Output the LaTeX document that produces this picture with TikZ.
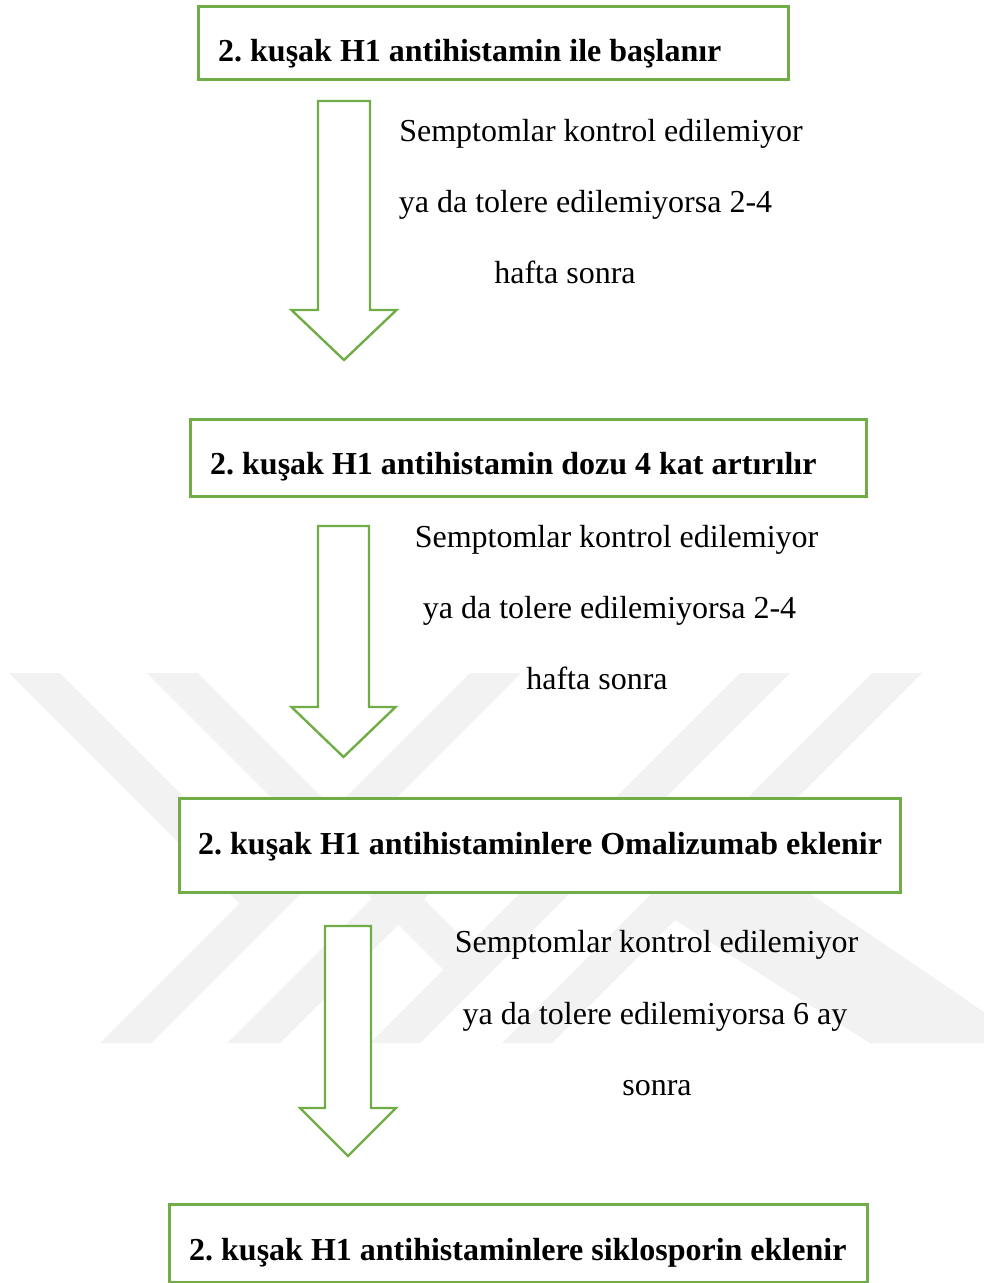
\documentclass[tikz,border=0pt]{standalone}
\usepackage{fontspec}
\setmainfont{Liberation Serif}
\frenchspacing
\usetikzlibrary{positioning}
\definecolor{boxGreen}{RGB}{112,173,71}
\definecolor{markGray}{RGB}{242,242,242}
\tikzstyle{flowChart} = [x = 1pt, y = -1pt]
\tikzstyle{stepBox} = [draw = boxGreen, line width = 2.6pt, fill = white, rectangle, inner sep = 0pt, anchor = north west]
\tikzstyle{stepText} = [font = \fontsize{32}{38}\selectfont\bfseries, anchor = base west, inner sep = 0pt]
\tikzstyle{noteText} = [font = \fontsize{32}{38}\selectfont, anchor = base, inner sep = 0pt]
\tikzstyle{blockArrow} = [draw = boxGreen, line width = 2.4pt, fill = white, line join = miter]
\tikzstyle{markBand} = [fill = markGray]
\newcommand{\downArrow}[6]{\filldraw [blockArrow] (#1 - #2, #3) -- (#1 + #2, #3) -- (#1 + #2, #4) -- (#1 + #6, #4) -- (#1, #5) -- (#1 - #6, #4) -- (#1 - #2, #4) -- cycle;}
\newcommand{\markStripe}[4]{\fill [markBand] #1 -- #2 -- #3 -- #4 -- cycle;}

\begin{document}
\begin{tikzpicture}[flowChart]
  \useasboundingbox (0,0) rectangle (984,1283);

  % watermark
  \markStripe{(470,673)}{(521,673)}{(151,1043)}{(100,1043)}
  \markStripe{(9,673)}{(60,673)}{(290.5,903.5)}{(265,929)}
  \markStripe{(740,673)}{(790,673)}{(420,1043)}{(370,1043)}
  \markStripe{(147,673)}{(198,673)}{(494,969)}{(468.5,994.5)}
  \markStripe{(872,673)}{(922,673)}{(552,1043)}{(502,1043)}
  \markStripe{(227,1043)}{(280,1043)}{(453,870)}{(400,870)}
  \fill [markBand] (665,880) -- (790,880) -- (984,1012) -- (984,1043) -- (870,1043) -- (675,920) -- cycle;

  \node [stepBox, minimum width = 590pt, minimum height = 73pt] (box1) at (197.3,5.3) {};
  \node [stepBox, minimum width = 676pt, minimum height = 77pt] (box2) at (189.3,418.3) {};
  \node [stepBox, minimum width = 721pt, minimum height = 94pt] (box3) at (178.3,797.3) {};
  \node [stepBox, minimum width = 698pt, minimum height = 78pt] (box4) at (168.3,1203.3) {};

  \node [stepText] (step1) at (218,61) {2. kuşak H1 antihistamin ile başlanır};
  \node [stepText] (step2) at (210,474) {2. kuşak H1 antihistamin dozu 4 kat artırılır};
  \node [stepText] (step3) at (198,854) {2. kuşak H1 antihistaminlere Omalizumab eklenir};
  \node [stepText] (step4) at (189,1260) {2. kuşak H1 antihistaminlere siklosporin eklenir};

  \downArrow{344}{26}{101}{310}{360}{52.5}
  \downArrow{343.5}{25.5}{526}{707}{757}{52}
  \downArrow{348}{23}{926}{1108}{1156}{48}

  \node [noteText] (note1a) at (601,141) {Semptomlar kontrol edilemiyor};
  \node [noteText] (note1b) at (585.5,212) {ya da tolere edilemiyorsa 2-4};
  \node [noteText] (note1c) at (565,283) {hafta sonra};

  \node [noteText] (note2a) at (616.5,547) {Semptomlar kontrol edilemiyor};
  \node [noteText] (note2b) at (609.5,618) {ya da tolere edilemiyorsa 2-4};
  \node [noteText] (note2c) at (597,689) {hafta sonra};

  \node [noteText] (note3a) at (656.5,952) {Semptomlar kontrol edilemiyor};
  \node [noteText] (note3b) at (655,1024) {ya da tolere edilemiyorsa 6 ay};
  \node [noteText] (note3c) at (657,1095) {sonra};
\end{tikzpicture}
\end{document}
